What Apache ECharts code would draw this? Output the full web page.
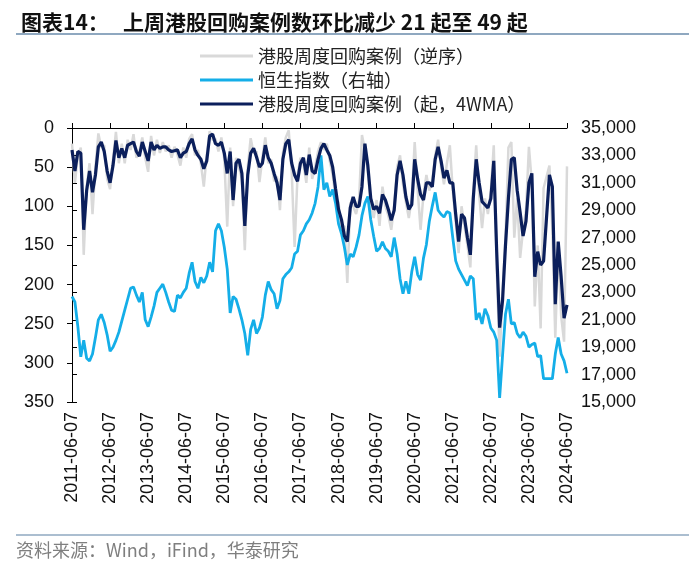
<!DOCTYPE html>
<html>
<head>
<meta charset="utf-8">
<script src="https://cdn.jsdelivr.net/npm/echarts@6/dist/echarts.min.js"></script>
<style>
html,body{margin:0;padding:0;background:#fff;}
#chart{width:700px;height:569px;}
</style>
</head>
<body>
<div id="chart"></div>
<script>
// x tick labels (one per year)
const tickLabels = ['2011-06-07','2012-06-07','2013-06-07','2014-06-07','2015-06-07','2016-06-07','2017-06-07',
  '2018-06-07','2019-06-07','2020-06-07','2021-06-07','2022-06-07','2023-06-07','2024-06-07'];
// samples roughly every 4 weeks (13 per year on the axis)
const pointsPerYear = 13;

// 港股周度回购案例 (weekly, inverted axis)
const buybackWeekly = [
20,70,35,25,162,75,45,110,50,7,
25,22,65,78,40,5,45,20,45,15,
28,8,38,30,12,38,56,10,35,15,
32,18,30,22,38,24,34,48,25,38,
14,8,35,28,45,75,35,4,15,14,
30,12,40,126,25,100,38,50,65,156,
50,13,32,30,69,38,12,45,40,68,
62,105,32,12,3,55,152,60,38,45,
70,25,65,50,30,18,28,20,42,60,
88,95,130,125,198,95,100,110,92,9,
28,55,98,115,92,125,75,100,112,130,
100,50,35,72,95,115,90,18,78,130,
85,60,80,68,35,15,50,72,45,22,
80,120,160,100,125,150,178,80,22,85,
128,90,110,80,22,180,292,210,140,25,
18,140,90,166,130,105,24,70,228,150,
256,77,null,48,130,268,150,240,273,49
];

// 港股周度回购案例 4WMA
const buyback4wma = [
28,55,30,32,130,80,55,82,60,24,
18,30,55,70,48,16,38,26,38,22,
20,18,30,36,18,30,42,18,28,22,
26,24,24,28,30,29,28,38,32,30,
20,14,28,35,40,52,42,10,8,20,
22,18,32,58,30,92,45,40,58,125,
60,32,26,37,50,45,22,38,45,58,
70,92,40,20,15,45,60,68,45,38,
60,34,55,58,40,26,20,28,35,50,
78,104,117,138,145,102,88,100,100,75,
20,48,90,104,100,109,85,92,104,118,
105,60,42,60,88,104,98,40,65,85,
92,70,70,75,40,24,42,64,54,70,
70,110,145,110,115,140,162,90,40,70,
94,98,102,90,42,158,255,220,150,90,
40,38,80,108,138,119,70,58,190,158,
175,170,null,60,75,225,145,190,243,226
];

// 恒生指数 (right axis)
const hsi = [
22700,22300,20500,18300,19500,18200,18000,18500,19700,21000,
21400,20800,19900,18700,19000,19500,20100,20900,21700,22500,
23300,23400,22800,22300,23000,21000,20500,21200,22000,23000,
23300,23600,23000,22300,21700,21600,22800,22600,23000,23300,
24400,25200,23800,23300,24100,23700,24200,25200,24500,27500,
28000,27500,26300,24700,21500,22700,22500,21800,21000,20000,
18400,20300,21000,20000,20400,21200,22800,23800,23200,22900,
21800,22400,24000,24300,24500,24800,25800,26000,27200,27500,
28000,28300,28800,29500,30700,33000,30500,31000,30000,30500,
29500,28000,27300,26300,25000,25800,25600,26300,27200,28600,
29500,30000,28300,27100,26000,26200,26700,26200,26000,25600,
27000,25800,24000,22900,23800,22900,24500,25600,24300,23900,
25500,26500,28200,29300,30300,29000,28700,28500,28900,28800,
27000,25300,24700,24300,23900,23500,24200,24000,21000,21500,
20700,21800,21300,20400,20100,19500,15300,18400,21400,22500,
20700,20800,20000,19700,20100,19800,19000,19200,19300,18300,
18400,16700,null,null,16700,18500,19700,18500,18000,17100
];

const toXY = arr => arr.map((v, i) => [i / pointsPerYear, v]);

const FONT = "'Liberation Sans', Arial, 'Noto Sans CJK SC', sans-serif";
const chart = echarts.init(document.getElementById('chart'), null, {renderer: 'canvas'});

const option = {
  animation: false,
  backgroundColor: '#fff',
  title: {
    text: '图表14：   上周港股回购案例数环比减少 21 起至 49 起',
    left: 16, top: 7,
    textStyle: {fontFamily: "'Noto Sans CJK SC', sans-serif", fontSize: 21, fontWeight: 'bold', color: '#111'}
  },
  graphic: [
    {type: 'line', shape: {x1: 16, y1: 34, x2: 689, y2: 34}, style: {stroke: '#8fa8c0', lineWidth: 2}},
    {type: 'line', shape: {x1: 16, y1: 535, x2: 689, y2: 535}, style: {stroke: '#8fa8c0', lineWidth: 1.5}},
    {type: 'text', left: 16, top: 541, style: {text: '资料来源：Wind，iFind，华泰研究', fill: '#7f7f7f',
      font: "18px 'Noto Sans CJK SC', sans-serif"}}
  ],
  legend: {
    orient: 'vertical',
    left: 195, top: 42,
    itemWidth: 53, itemHeight: 3, itemGap: 6,
    icon: 'rect',
    textStyle: {fontFamily: "'Noto Sans CJK SC', 'Liberation Sans', sans-serif", fontSize: 18, color: '#222', lineHeight: 18},
    data: ['港股周度回购案例（逆序）', '恒生指数（右轴）', '港股周度回购案例（起，4WMA）']
  },
  grid: {left: 72, right: 133, top: 128, bottom: 167, containLabel: false},
  xAxis: [
    {
      type: 'value', position: 'bottom', min: 0, max: 13, interval: 1,
      axisLine: {show: false, onZero: false}, axisTick: {show: false}, splitLine: {show: false},
      axisLabel: {rotate: 90, margin: 10, fontSize: 18, fontFamily: FONT, color: '#111',
        formatter: v => tickLabels[Math.round(v)] || ''}
    },
    {
      type: 'value', position: 'top', min: 0, max: 13, interval: 1,
      axisLine: {show: true, onZero: false, lineStyle: {color: '#000', width: 1}},
      axisTick: {show: true, length: 5, lineStyle: {color: '#000'}},
      axisLabel: {show: false}, splitLine: {show: false}
    }
  ],
  yAxis: [
    {
      type: 'value', position: 'left', inverse: true, min: 0, max: 350, interval: 50,
      axisLine: {show: true, lineStyle: {color: '#000', width: 1}},
      axisTick: {show: true, length: 5, lineStyle: {color: '#000'}},
      splitLine: {show: false},
      axisLabel: {margin: 18, fontSize: 18, fontFamily: FONT, color: '#111'}
    },
    {
      type: 'value', position: 'right', min: 15000, max: 35000, interval: 2000,
      axisLine: {show: true, lineStyle: {color: '#000', width: 1}},
      axisTick: {show: true, length: 5, lineStyle: {color: '#000'}},
      splitLine: {show: false},
      axisLabel: {margin: 14, fontSize: 18, fontFamily: FONT, color: '#111',
        formatter: v => v.toLocaleString('en-US')}
    }
  ],
  series: [
    {
      name: '港股周度回购案例（逆序）', type: 'line', xAxisIndex: 0, yAxisIndex: 0,
      data: toXY(buybackWeekly), showSymbol: false, connectNulls: true,
      lineStyle: {color: '#d9d9d9', width: 2.5}, itemStyle: {color: '#d9d9d9'}, z: 1
    },
    {
      name: '恒生指数（右轴）', type: 'line', xAxisIndex: 0, yAxisIndex: 1,
      data: toXY(hsi), showSymbol: false, connectNulls: true,
      lineStyle: {color: '#14aee8', width: 2.8}, itemStyle: {color: '#14aee8'}, z: 2
    },
    {
      name: '港股周度回购案例（起，4WMA）', type: 'line', xAxisIndex: 0, yAxisIndex: 0,
      data: toXY(buyback4wma), showSymbol: false, connectNulls: true,
      lineStyle: {color: '#0b1f5c', width: 3.2}, itemStyle: {color: '#0b1f5c'}, z: 3
    }
  ]
};
chart.setOption(option);
</script>
</body>
</html>
